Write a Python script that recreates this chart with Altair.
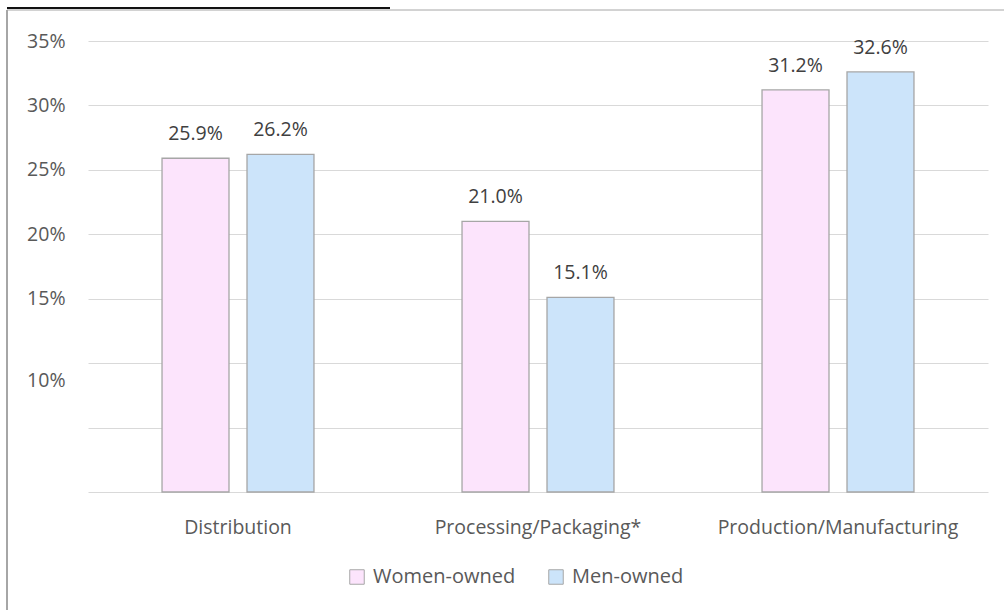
import altair as alt
import pandas as pd

categories = ["Distribution", "Processing/Packaging*", "Production/Manufacturing"]
women = [25.9, 21.0, 31.2]
men = [26.2, 15.1, 32.6]
series = ["Women-owned", "Men-owned"]
colors = ["#FCE4FC", "#CCE4FA"]
y_ticks = [0, 5, 10, 15, 20, 25, 30, 35]

rows = []
for c, w, m in zip(categories, women, men):
    rows.append({"cat": c, "series": series[0], "value": w, "label": f"{w:.1f}%"})
    rows.append({"cat": c, "series": series[1], "value": m, "label": f"{m:.1f}%"})
df = pd.DataFrame(rows)

FONT = "Open Sans"
FS = 19.5

x_enc = alt.X("cat:N", sort=categories,
              scale=alt.Scale(paddingInner=0, paddingOuter=0),
              axis=alt.Axis(title=None, labelAngle=0, domain=False, ticks=False,
                            labelPadding=26, labelFontSize=FS, labelColor="#595959",
                            labelFont=FONT, grid=False, labelLimit=0))
xo_enc = alt.XOffset("series:N", sort=series,
                     scale=alt.Scale(paddingInner=0.212, paddingOuter=0.871))
y_enc = alt.Y("value:Q",
              scale=alt.Scale(domain=[0, 35], nice=False),
              axis=alt.Axis(title=None, values=y_ticks, domain=False, ticks=False,
                            gridColor="#D9D9D9", gridWidth=1,
                            labelExpr="datum.value >= 10 ? datum.value + '%' : ''",
                            labelOffset={"condition": {"test": "datum.value == 10", "value": 17}, "value": 0},
                            labelPadding=23, labelFontSize=FS, labelColor="#595959",
                            labelFont=FONT))

bars = alt.Chart(df).mark_bar(stroke="#A6A6A6", strokeWidth=1.3).encode(
    x=x_enc, xOffset=xo_enc, y=y_enc,
    color=alt.Color("series:N", sort=series,
                    scale=alt.Scale(domain=series, range=colors),
                    legend=alt.Legend(title=None, orient="none", direction="horizontal",
                                      legendX=259, legendY=526,
                                      symbolType="square", symbolSize=210,
                                      symbolStrokeColor="#A6A6A6", symbolStrokeWidth=1,
                                      labelFontSize=20, labelColor="#595959",
                                      labelFont=FONT, columnPadding=30, labelOffset=6)),
)

labels = alt.Chart(df).mark_text(baseline="bottom", dy=-14, fontSize=FS,
                                 color="#404040", font=FONT).encode(
    x=alt.X("cat:N", sort=categories), xOffset=alt.XOffset("series:N", sort=series),
    y="value:Q", text="label:N")

border_df = pd.DataFrame({"k": [0]})
left_border = alt.Chart(border_df).mark_rule(color="#A6A6A6", strokeWidth=2).encode(
    x=alt.value(-81), y=alt.value(-31), y2=alt.value(569))
top_border = alt.Chart(border_df).mark_rule(color="#A6A6A6", strokeWidth=1).encode(
    x=alt.value(-81), x2=alt.value(916), y=alt.value(-31))
top_dark = alt.Chart(border_df).mark_rule(color="#111111", strokeWidth=2).encode(
    x=alt.value(-81), x2=alt.value(302), y=alt.value(-33))

chart = alt.layer(bars, labels, left_border, top_border, top_dark).properties(
    width=900, height=451,
    autosize=alt.AutoSizeParams(type="none"),
    padding={"left": 88, "top": 41, "right": 16, "bottom": 118},
).configure(background="white").configure_view(stroke=None)

chart.save("out.html", embed_options={"renderer": "svg", "actions": False})
